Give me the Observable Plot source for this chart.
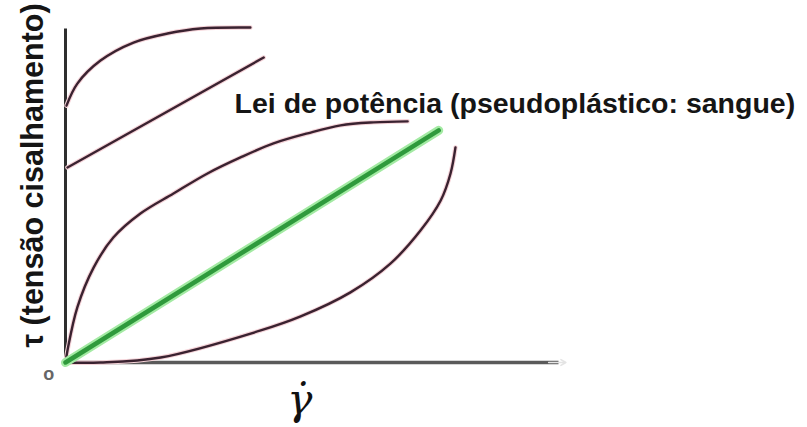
<!DOCTYPE html>
<html>
<head>
<meta charset="utf-8">
<script src="https://cdn.jsdelivr.net/npm/d3@7"></script>
<script src="https://cdn.jsdelivr.net/npm/@observablehq/plot@0.6"></script>
<style>
  html, body { margin: 0; padding: 0; background: #fff; }
  #chart svg { display: block; }
</style>
</head>
<body>
<div id="chart"></div>
<script>
// Data (arbitrary units: shear rate 0-100, shear stress 0-100)
const herschelX = [0.2, 2.4, 7.1, 13.8, 20.7, 27.4, 37.5];
const herschelY = [76.9, 83.5, 90.4, 95.8, 98.5, 100, 100.3];

const binghamX = [0.4, 40.2];
const binghamY = [58.4, 91.3];

const pseudoX = [0, 0.4, 2.4, 5.7, 9.7, 15.2, 21.9, 28.8, 35.5, 42.2, 49.1, 55.8, 62.5, 69.4];
const pseudoY = [0, 3.6, 16.5, 28.4, 37.4, 44.6, 50.6, 56.6, 61.4, 65.6, 68.6, 71.0, 71.9, 72.2];

const newtonX = [0, 75.7];
const newtonY = [0, 69.5];

const dilatX = [0, 7.1, 19.3, 39.6, 47.7, 57.8, 65.9, 72.0, 76.1, 78.1, 79.1];
const dilatY = [0, 0, 1.5, 9.6, 13.8, 21.0, 29.6, 39.5, 48.5, 56.6, 64.4];

const yLabel = "τ (tensão cisalhamento)";
const xLabel = "γ̇";
const originLabel = "o";
const annotation = "Lei de potência (pseudoplástico: sangue)";

const toPts = (xs, ys) => xs.map((x, i) => ({x, y: ys[i]}));
const herschel = toPts(herschelX, herschelY);
const bingham = toPts(binghamX, binghamY);
const pseudo = toPts(pseudoX, pseudoY);
const newton = toPts(newtonX, newtonY);
const dilat = toPts(dilatX, dilatY);

const dark = "#3a2230";
const halo = "#f5d3d8";
const lineOpts = (d) => [
  Plot.line(d, {x: "x", y: "y", stroke: halo, strokeWidth: 4.5, curve: "catmull-rom"}),
  Plot.line(d, {x: "x", y: "y", stroke: dark, strokeWidth: 2.4, curve: "catmull-rom"})
];
const sans = "Liberation Sans, Arial, sans-serif";

const chart = Plot.plot({
  width: 807,
  height: 427,
  marginLeft: 65,
  marginRight: 249,
  marginTop: 28,
  marginBottom: 65,
  x: {domain: [0, 100], axis: null},
  y: {domain: [0, 100], axis: null},
  style: {background: "#fff", overflow: "visible"},
  marks: [
    // axes
    Plot.link([0], {x1: 0, y1: 0, x2: 100, y2: 0, stroke: "#5a5a5a", strokeWidth: 3.5}),
    Plot.arrow([0], {x1: 98, y1: 0, x2: 101.5, y2: 0, stroke: "#e4e4e4", strokeWidth: 1.5, headLength: 10}),
    Plot.link([0], {x1: 0, y1: 0, x2: 0, y2: 100, stroke: "#2e2e2e", strokeWidth: 3}),
    ...lineOpts(herschel),
    ...lineOpts(bingham),
    ...lineOpts(pseudo),
    ...lineOpts(dilat),
    Plot.line(newton, {x: "x", y: "y", stroke: "#a3eaa3", strokeWidth: 9}),
    Plot.line(newton, {x: "x", y: "y", stroke: "#2f9a3c", strokeWidth: 4.5}),
    // labels
    Plot.text([annotation], {x: 34.3, y: 77.4, text: d => d, textAnchor: "start",
      fontSize: 28.5, fontWeight: "bold", fontFamily: sans, fill: "#151515"}),
    Plot.text([yLabel], {x: -6.6, y: 56, text: d => d, rotate: -90,
      fontSize: 30.5, fontWeight: "bold", fontFamily: sans, fill: "#151515"}),
    Plot.text([originLabel], {x: -3.4, y: -3.4, text: d => d,
      fontSize: 18, fontWeight: "bold", fontFamily: sans, fill: "#666"}),
    Plot.text([xLabel], {x: 47.5, y: -11.3, text: d => d,
      fontSize: 42, fontStyle: "italic", fontFamily: "DejaVu Serif, serif", fill: "#111"})
  ]
});
document.getElementById("chart").append(chart);
</script>
</body>
</html>
